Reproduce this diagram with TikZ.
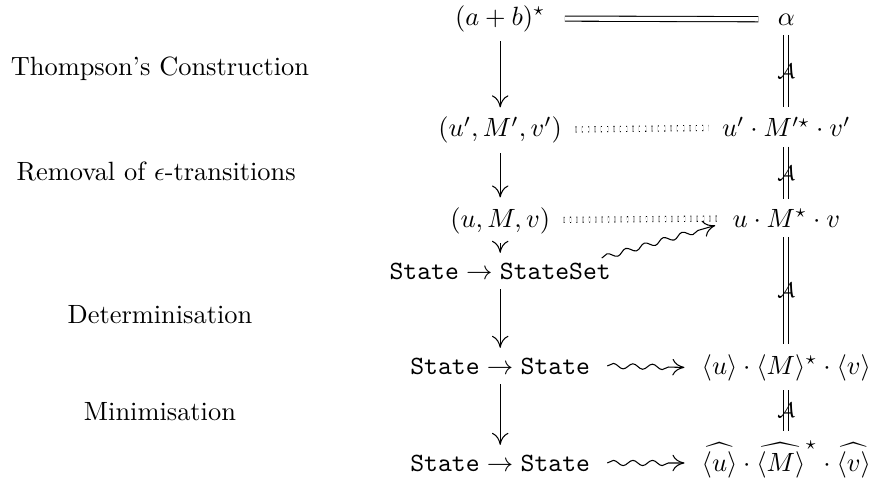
\documentclass[tikz,border=0pt]{standalone}
\usepackage{amsmath,amssymb}
\usetikzlibrary{arrows.meta,decorations.pathmorphing,positioning}
\tikzset{
  term/.style={
    anchor=base,
    inner sep=3.5pt
  },
  phase/.style={
    anchor=base,
    align=center
  },
  reduce/.style={
    -{Computer Modern Rightarrow[length=1.6mm,width=2.2mm]},
    line width=0.4pt
  },
  sameline/.style={
    double,
    double equal sign distance,
    line width=0.4pt
  },
  across/.style={
    sameline,
    shorten <=1.3mm,
    shorten >=1.3mm
  },
  dotline/.style={
    sameline,
    dotted,
    shorten <=0.5mm,
    shorten >=0.5mm
  },
  squig/.style={
    -{Computer Modern Rightarrow[length=1.6mm,width=2.2mm]},
    line width=0.4pt,
    decorate,
    decoration={snake, amplitude=0.35mm, segment length=2.6mm, post length=1.2mm}
  },
  langlabel/.style={
    midway,
    inner sep=0pt,
    font=\footnotesize
  }
}

\begin{document}
\begin{tikzpicture}
  \useasboundingbox (0,0) rectangle (11.624,-6.578);

  % phases on the left
  \node[phase] (thompson) at (2.13,-1.012) {Thompson's Construction};
  \node[phase] (removal)  at (2.08,-2.410) {Removal of $\epsilon$-transitions};
  \node[phase] (determ)   at (2.13,-4.301) {Determinisation};
  \node[phase] (minim)    at (2.13,-5.593) {Minimisation};

  % automata
  \node[term] (regex)    at (6.66,-0.333) {$(a+b)^{\star}$};
  \node[term] (enfa)     at (6.66,-1.824) {$(u',M',v')$};
  \node[term] (nfa)      at (6.66,-3.023) {$(u,M,v)$};
  \node[term] (stateset) at (6.66,-3.715) {$\texttt{State}\rightarrow\texttt{StateSet}$};
  \node[term] (dfa)      at (6.66,-4.980) {$\texttt{State}\rightarrow\texttt{State}$};
  \node[term] (mindfa)   at (6.66,-6.272) {$\texttt{State}\rightarrow\texttt{State}$};

  % expressions
  \node[term] (alpha) at (10.47,-0.333) {$\alpha$};
  \node[term] (eexpr) at (10.47,-1.824) {$u'\cdot M'^{\star}\cdot v'$};
  \node[term] (nexpr) at (10.47,-3.023) {$u\cdot M^{\star}\cdot v$};
  \node[term] (dexpr) at (10.47,-4.980) {$\langle u\rangle\cdot\langle M\rangle^{\star}\cdot\langle v\rangle$};
  \node[term] (mexpr) at (10.47,-6.272) {$\widehat{\langle u\rangle}\cdot\widehat{\langle M\rangle}^{\star}\cdot\widehat{\langle v\rangle}$};
  \coordinate (mend) at (mindfa.east -| mexpr.west);

  \draw[reduce] (regex) -- (enfa);
  \draw[reduce] (enfa) -- (nfa);
  \draw[reduce] (nfa) -- (stateset);
  \draw[reduce] (stateset) -- (dfa);
  \draw[reduce] (dfa) -- (mindfa);

  \draw[across] (regex) -- (alpha);
  \draw[dotline] (enfa) -- (eexpr);
  \draw[dotline] (nfa) -- (nexpr);

  \draw[sameline] (alpha) -- node[langlabel] {$\mathcal{A}$} (eexpr);
  \draw[sameline] (eexpr) -- node[langlabel] {$\mathcal{A}$} (nexpr);
  \draw[sameline] (nexpr) -- node[langlabel] {$\mathcal{A}$} (dexpr);
  \draw[sameline] (dexpr) -- node[langlabel] {$\mathcal{A}$} (mexpr);

  \draw[squig] ([xshift=-2.5mm,yshift=-0.7mm]stateset.north east) -- ([xshift=-1mm,yshift=-1mm]nexpr.west);
  \draw[squig] ([xshift=1mm]dfa.east) -- ([xshift=-1mm]dexpr.west);
  \draw[squig] ([xshift=1mm]mindfa.east) -- ([xshift=-1mm]mend);
\end{tikzpicture}
\end{document}
